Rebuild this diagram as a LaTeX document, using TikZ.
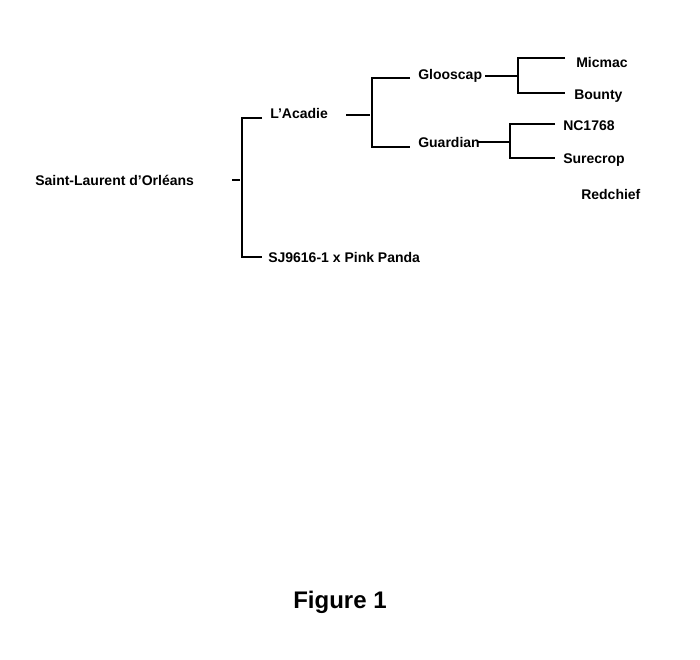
\documentclass[tikz,border=0pt]{standalone}
\usepackage{fontspec}
\setmainfont{Liberation Sans}
\begin{document}
\begin{tikzpicture}[x=0.75pt,y=-0.75pt,
    cultivar/.style={anchor=west, inner sep=0pt, font=\fontsize{10.5}{12}\bfseries},
    link/.style={line width=0.8pt}]
    \useasboundingbox (0,0) rectangle (700,660);

    % Cultivar names
    \node[cultivar] (stlaurent) at (35,180) {Saint-Laurent d'Orléans};
    \node[cultivar] (acadie) at (270,113) {L'Acadie};
    \node[cultivar] (sj) at (268,257) {SJ9616-1 x Pink Panda};
    \node[cultivar] (glooscap) at (418,76) {Glooscap};
    \node[cultivar] (guardian) at (418,142) {Guardian};
    \node[cultivar] (micmac) at (576,62) {Micmac};
    \node[cultivar] (bounty) at (574,96) {Bounty};
    \node[cultivar] (nc) at (563,126) {NC1768};
    \node[cultivar] (surecrop) at (563,160) {Surecrop};
    \node[cultivar] (redchief) at (581,194) {Redchief};

    % First level
    \draw[link] (232,180) -- (240,180);
    \draw[link] (262,118) -- (242,118) -- (242,257) -- (262,257);
    % L'Acadie parents
    \draw[link] (346,115) -- (370,115);
    \draw[link] (410,78) -- (372,78) -- (372,147) -- (410,147);
    % Glooscap parents
    \draw[link] (485,76) -- (518,76);
    \draw[link] (565,58) -- (518,58) -- (518,93) -- (565,93);
    % Guardian parents
    \draw[link] (478,142) -- (510,142);
    \draw[link] (555,124) -- (510,124) -- (510,158) -- (555,158);

    \node[inner sep=0pt, font=\fontsize{18}{20}\bfseries] (caption) at (340,602) {Figure 1};
\end{tikzpicture}
\end{document}
